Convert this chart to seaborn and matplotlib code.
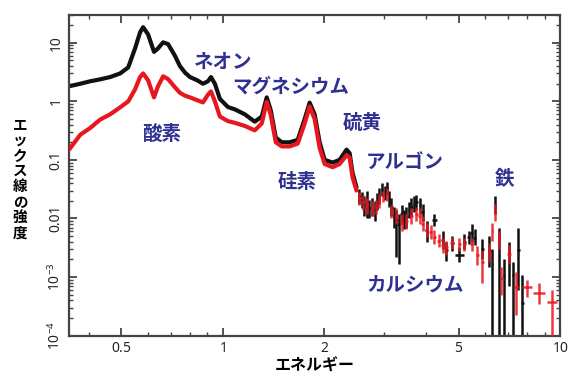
import numpy as np
import pandas as pd
import seaborn as sns
import matplotlib.pyplot as plt
from matplotlib.ticker import NullFormatter

# smooth (densely sampled) part of the spectra, energy in keV
line_energy = [0.350, 0.378, 0.404, 0.433, 0.463, 0.496, 0.524, 0.549, 0.568, 0.580,
               0.600, 0.625, 0.642, 0.665, 0.688, 0.721, 0.746, 0.772, 0.799, 0.838,
               0.873, 0.903, 0.922, 0.947, 0.980, 1.035, 1.085, 1.162, 1.243, 1.304,
               1.349, 1.387, 1.435, 1.495, 1.578, 1.667, 1.748, 1.808, 1.871, 1.936,
               2.004, 2.116, 2.218, 2.327, 2.376, 2.424, 2.490]
black_line = [1.81, 2.0, 2.2, 2.38, 2.6, 3.0, 3.8, 8.0, 15.0, 18.5,
              14.0, 7.0, 8.0, 10.2, 9.5, 6.0, 4.0, 3.1, 2.6, 2.3,
              2.0, 2.2, 2.6, 2.0, 1.1, 0.8, 0.73, 0.6, 0.45, 0.55,
              1.17, 0.7, 0.24, 0.2, 0.2, 0.22, 0.5, 0.95, 0.6, 0.2,
              0.1, 0.09, 0.1, 0.15, 0.13, 0.06, 0.034]
red_line = [0.15, 0.27, 0.35, 0.49, 0.6, 0.79, 1.0, 1.6, 2.6, 3.0,
            2.3, 1.17, 1.8, 2.68, 2.4, 1.74, 1.4, 1.25, 1.17, 1.05,
            0.96, 1.3, 1.48, 1.0, 0.55, 0.46, 0.43, 0.38, 0.32, 0.42,
            0.98, 0.58, 0.2, 0.17, 0.17, 0.19, 0.42, 0.82, 0.5, 0.16,
            0.085, 0.075, 0.085, 0.12, 0.11, 0.05, 0.03]

# binned points with error bars (high energy part)
black_e = [2.54, 2.58, 2.62, 2.67, 2.72, 2.76, 2.82, 2.87, 2.91, 2.97, 3.02, 3.06,
           3.11, 3.16, 3.22, 3.27, 3.32, 3.39, 3.45, 3.50, 3.56, 3.62, 3.68, 3.75,
           3.84, 3.91, 4.02, 4.24, 4.48, 4.60, 4.79, 5.03, 5.20, 5.35, 5.46, 5.58,
           5.88, 6.17, 6.29, 6.43, 6.60, 6.82, 7.06, 7.26, 7.51, 7.72]
black_f = [0.024, 0.021, 0.017, 0.019, 0.015, 0.016, 0.014, 0.02, 0.025, 0.031, 0.028, 0.033,
           0.022, 0.016, 0.011, 0.0095, 0.008, 0.012, 0.010, 0.011, 0.014, 0.016, 0.018, 0.019,
           0.017, 0.013, 0.0064, 0.0095, 0.0043, 0.0029, 0.0038, 0.0024, 0.004, 0.0048, 0.0057, 0.0047,
           0.003, 0.0028, 0.0017, 0.017, 0.0047, 0.0011, 0.0026, 0.0011, 0.0029, 0.00036]
black_lo = [0.018, 0.015, 0.011, 0.010, 0.010, 0.011, 0.009, 0.014, 0.018, 0.024, 0.021, 0.025,
            0.016, 0.011, 0.007, 0.0022, 0.0017, 0.008, 0.0065, 0.007, 0.010, 0.011, 0.013, 0.014,
            0.012, 0.009, 0.004, 0.0075, 0.003, 0.0019, 0.0028, 0.0018, 0.003, 0.0036, 0.004, 0.0035,
            0.002, 0.0015, 0.00009, 0.012, 0.00009, 0.00009, 0.0007, 0.00009, 0.0006, 0.00009]
black_hi = [0.032, 0.028, 0.024, 0.03, 0.021, 0.022, 0.02, 0.027, 0.033, 0.04, 0.036, 0.042,
            0.029, 0.022, 0.016, 0.014, 0.012, 0.017, 0.014, 0.016, 0.019, 0.022, 0.024, 0.025,
            0.022, 0.018, 0.009, 0.012, 0.006, 0.004, 0.005, 0.0032, 0.0055, 0.0062, 0.008, 0.0065,
            0.0045, 0.005, 0.003, 0.024, 0.007, 0.002, 0.004, 0.0018, 0.007, 0.0011]
black_xw = [0.02, 0.02, 0.02, 0.02, 0.02, 0.02, 0.02, 0.02, 0.02, 0.02, 0.02, 0.02,
            0.03, 0.03, 0.03, 0.03, 0.03, 0.03, 0.03, 0.03, 0.03, 0.03, 0.03, 0.03,
            0.03, 0.03, 0.04, 0.08, 0.05, 0.05, 0.05, 0.15, 0.06, 0.06, 0.06, 0.06,
            0.06, 0.06, 0.03, 0.03, 0.05, 0.05, 0.06, 0.06, 0.07, 0.08]

red_e = [2.54, 2.60, 2.67, 2.76, 2.84, 2.91, 2.98, 3.06, 3.16, 3.27, 3.39, 3.50,
         3.62, 3.75, 3.83, 3.91, 4.02, 4.13, 4.24, 4.36, 4.48, 4.60, 4.79, 5.03,
         5.20, 5.46, 5.68, 5.88, 6.17, 6.30, 6.43, 6.60, 6.69, 7.06, 7.41, 7.98,
         8.66, 9.47]
red_f = [0.022, 0.019, 0.017, 0.015, 0.016, 0.02, 0.024, 0.026, 0.013, 0.011, 0.0085, 0.009,
         0.011, 0.012, 0.011, 0.008, 0.0064, 0.0058, 0.0049, 0.0042, 0.0035, 0.0032, 0.0038, 0.0036,
         0.0036, 0.0036, 0.0024, 0.0018, 0.0027, 0.006, 0.0126, 0.0045, 0.00096, 0.0025, 0.00068, 0.00068,
         0.00053, 0.00037]
red_lo = [0.017, 0.014, 0.012, 0.011, 0.012, 0.015, 0.019, 0.02, 0.01, 0.008, 0.006, 0.0065,
          0.008, 0.009, 0.008, 0.006, 0.0048, 0.0044, 0.0037, 0.0032, 0.0026, 0.0024, 0.003, 0.0028,
          0.0028, 0.0028, 0.0016, 0.0008, 0.0018, 0.0042, 0.009, 0.003, 0.0005, 0.0017, 0.00022, 0.00045,
          0.00035, 0.0001]
red_hi = [0.028, 0.025, 0.022, 0.02, 0.021, 0.026, 0.03, 0.033, 0.017, 0.015, 0.012, 0.012,
          0.015, 0.016, 0.015, 0.011, 0.0085, 0.0076, 0.0064, 0.0055, 0.0046, 0.0042, 0.0048, 0.0046,
          0.0046, 0.0046, 0.0034, 0.0028, 0.0038, 0.0085, 0.018, 0.006, 0.0015, 0.0035, 0.0012, 0.0009,
          0.0008, 0.0006]
red_xw = [0.02, 0.02, 0.02, 0.02, 0.02, 0.02, 0.02, 0.02, 0.02, 0.03, 0.03, 0.03,
          0.03, 0.03, 0.03, 0.03, 0.04, 0.04, 0.04, 0.05, 0.05, 0.05, 0.06, 0.06,
          0.06, 0.06, 0.06, 0.06, 0.06, 0.04, 0.04, 0.05, 0.06, 0.08, 0.12, 0.26,
          0.33, 0.35]

# element labels and where they sit (axes fraction)
elements = ['酸素', 'ネオン', 'マグネシウム', '硅素', '硫黄', 'アルゴン', '鉄', 'カルシウム']
label_x = [0.189, 0.314, 0.452, 0.464, 0.597, 0.684, 0.886, 0.705]
label_y = [0.626, 0.853, 0.775, 0.476, 0.663, 0.538, 0.485, 0.158]

xticks = [0.5, 1, 2, 5, 10]
xticklabels = [r'$\mathregular{0.5}$', r'$\mathregular{1}$', r'$\mathregular{2}$',
               r'$\mathregular{5}$', r'$\mathregular{10}$']
xminor = [0.4, 0.6, 0.7, 0.8, 0.9, 3, 4, 6, 7, 8, 9]
yticks = [1e-4, 1e-3, 0.01, 0.1, 1, 10]
yticklabels = [r'$\mathregular{10^{-4}}$', r'$\mathregular{10^{-3}}$', '0.01', '0.1', '1', '10']

sns.set_style('ticks')
plt.rcParams['font.family'] = ['Noto Sans CJK JP', 'DejaVu Sans']
plt.rcParams['mathtext.fontset'] = 'custom'
plt.rcParams['mathtext.rm'] = 'Noto Sans:bold'

BLACK = '#111111'
RED = '#e8161e'
BLUE = '#2e3192'
TICKFONT = ['Noto Sans', 'DejaVu Sans']

fig = plt.figure(figsize=(5.71, 3.72), dpi=100)
ax = fig.add_axes([0.121, 0.098, 0.860, 0.862])

df = pd.DataFrame({'E': line_energy, 'black': black_line, 'red': red_line})

# binned points
ax.errorbar(black_e, black_f,
            yerr=[np.subtract(black_f, black_lo), np.subtract(black_hi, black_f)],
            xerr=black_xw, fmt='none', ecolor=BLACK, elinewidth=1.8, zorder=2)
ax.errorbar(red_e, red_f,
            yerr=[np.subtract(red_f, red_lo), np.subtract(red_hi, red_f)],
            xerr=red_xw, fmt='none', ecolor=RED, elinewidth=1.8, alpha=0.85, zorder=3)

sns.lineplot(data=df, x='E', y='black', ax=ax, color=BLACK, lw=3, sort=False,
             estimator=None, zorder=2)
sns.lineplot(data=df, x='E', y='red', ax=ax, color=RED, lw=3, sort=False,
             estimator=None, zorder=3)

ax.set_xscale('log')
ax.set_yscale('log')
ax.set_xlim(0.35, 10)
ax.set_ylim(1e-4, 30)

ax.set_xticks(xticks)
ax.set_xticklabels(xticklabels, family=TICKFONT, fontweight='bold', fontsize=10)
ax.set_xticks(xminor, minor=True)
ax.xaxis.set_minor_formatter(NullFormatter())
ax.set_yticks(yticks)
ax.set_yticklabels(yticklabels, family=TICKFONT, fontweight='bold', fontsize=10,
                   rotation=90, va='center')

ax.tick_params(which='both', direction='in', top=True, right=True, color='#444444')
ax.tick_params(which='major', length=6, width=1.3, pad=4)
ax.tick_params(which='minor', length=3, width=1.0)
for sp in ax.spines.values():
    sp.set_linewidth(1.6)
    sp.set_color('#444444')

ax.set_xlabel('エネルギー', fontsize=11.5, fontweight='bold', color='black', labelpad=1)
ax.set_ylabel('')

for name, lx, ly in zip(elements, label_x, label_y):
    ax.text(lx, ly, name, transform=ax.transAxes, ha='center', va='center',
            fontsize=14, fontweight='bold', color=BLUE, zorder=5)

fig.text(0.035, 0.52, '\n'.join('エックス線の強度'), ha='center', va='center',
         fontsize=10.5, fontweight='bold', color='black', linespacing=0.95)

fig.savefig('out.png', dpi=100)
